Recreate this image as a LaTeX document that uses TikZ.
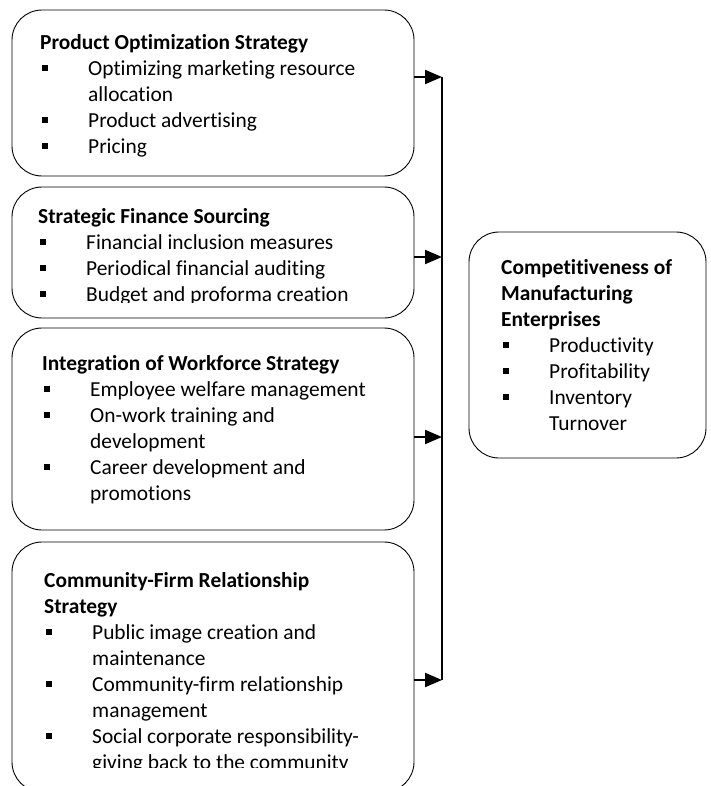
\documentclass[tikz,border=0pt]{standalone}
\usepackage{fontspec}
\setmainfont{Carlito}[RawFeature = {-liga}]
\usetikzlibrary{arrows.meta}

\newcommand{\bl}{\makebox[48pt][l]{\hspace*{2pt}\rule[4pt]{6pt}{6pt}}}
\newcommand{\ind}{\hspace*{48pt}}

\tikzset{
  box/.style = {draw, rounded corners = 30pt, line width = 0.9pt, inner sep = 0pt},
  list/.style = {anchor = north west, align = left, inner sep = 0pt, font = \fontsize{21.4}{26}\selectfont},
  feed/.style = {-{Triangle[length = 17pt, width = 14pt]}, line width = 2pt},
}

\begin{document}
\begin{tikzpicture}[x = 1pt, y = -1pt]
    \useasboundingbox (0, 0) rectangle (710, 786);

    \node[box, minimum width = 402pt, minimum height = 166pt] (s1) at (213, 93) {};
    \node[box, minimum width = 402pt, minimum height = 131pt] (s2) at (213, 252.5) {};
    \node[box, minimum width = 402pt, minimum height = 202pt] (s3) at (213, 429) {};
    \node[box, minimum width = 402pt, minimum height = 250pt] (s4) at (213, 667) {};
    \node[box, minimum width = 237pt, minimum height = 226pt] (c) at (587.5, 345) {};

    \node[list] (t1) at (40, 30.8) {\strut\textbf{Product Optimization Strategy}\\
        \bl Optimizing marketing resource\\ \ind allocation\\
        \bl Product advertising\\ \bl Pricing};
    \begin{scope}
        \clip (0, 0) rectangle (420, 302);
        \node[list] (t2) at (38, 204.8) {\strut\textbf{Strategic Finance Sourcing}\\
            \bl Financial inclusion measures\\ \bl Periodical financial auditing\\
            \bl Budget and proforma creation};
    \end{scope}
    \node[list] (t3) at (42, 351.8) {\strut\textbf{Integration of Workforce Strategy}\\
        \bl Employee welfare management\\ \bl On-work training and\\ \ind development\\
        \bl Career development and\\ \ind promotions};
    \begin{scope}
        \clip (0, 540) rectangle (420, 767);
        \node[list] (t4) at (44, 568.8) {\strut\textbf{Community-Firm Relationship}\\
            \textbf{Strategy}\\
            \bl Public image creation and\\ \ind maintenance\\
            \bl Community-firm relationship\\ \ind management\\
            \bl Social corporate responsibility-\\ \ind giving back to the community};
    \end{scope}
    \node[list] (tc) at (501, 255.8) {\strut\textbf{Competitiveness of}\\
        \textbf{Manufacturing}\\ \textbf{Enterprises}\\
        \bl Productivity\\ \bl Profitability\\ \bl Inventory\\ \ind Turnover};

    \coordinate (j1) at (442, 77);
    \coordinate (j2) at (442, 257);
    \coordinate (j3) at (442, 437);
    \coordinate (j4) at (442, 680);
    \draw[line width = 2pt] (j1) -- (j4);
    \foreach \i in {1, ..., 4}
        \draw[feed] (s\i.east |- j\i) -- (j\i);
\end{tikzpicture}
\end{document}
